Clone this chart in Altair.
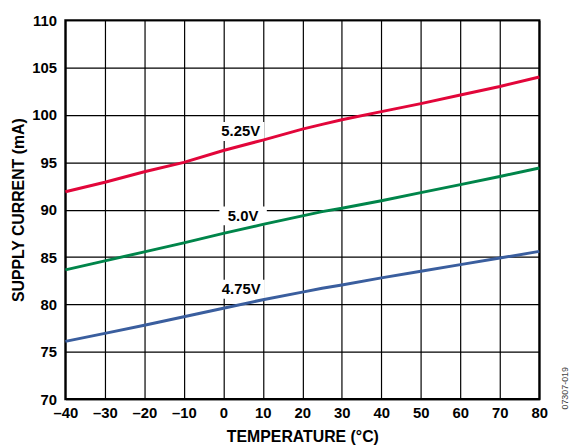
import altair as alt
import pandas as pd

temps = [-40, -30, -20, -10, 0, 10, 20, 25, 30, 40, 50, 60, 70, 80]
i_525 = [91.9, 92.9, 94.0, 95.0, 96.25, 97.35, 98.5, 99.0, 99.5, 100.35, 101.2, 102.1, 103.0, 104.0]
i_500 = [83.65, 84.6, 85.55, 86.5, 87.5, 88.45, 89.35, 89.8, 90.15, 90.95, 91.8, 92.65, 93.5, 94.4]
i_475 = [76.1, 76.95, 77.8, 78.7, 79.6, 80.5, 81.3, 81.7, 82.05, 82.8, 83.5, 84.2, 84.9, 85.6]

series_names = ["5.25V", "5.0V", "4.75V"]
series_colors = ["#E2063A", "#00854A", "#3A5E9E"]
label_x = [4.4, 5.0, 4.5]
label_y = [98.25, 89.35, 81.6]
x_ticks = [-40, -30, -20, -10, 0, 10, 20, 30, 40, 50, 60, 70, 80]
y_ticks = [70, 75, 80, 85, 90, 95, 100, 105, 110]

rows = []
for name, vals in zip(series_names, [i_525, i_500, i_475]):
    for t, v in zip(temps, vals):
        rows.append({"temp": t, "cur": v, "series": name})
df = pd.DataFrame(rows)

lab = pd.DataFrame({"series": series_names, "temp": label_x, "cur": label_y})
lab["x1"] = lab["temp"] - 6.0
lab["x2"] = lab["temp"] + 6.0
lab["y1"] = lab["cur"] - 1.0
lab["y2"] = lab["cur"] + 1.0

FONT = "Liberation Sans"
xscale = alt.Scale(domain=[-40, 80], nice=False, zero=False)
yscale = alt.Scale(domain=[70, 110], nice=False, zero=False)

xaxis = alt.Axis(
    values=x_ticks,
    title="TEMPERATURE (°C)",
    labelExpr="datum.value < 0 ? '–' + abs(datum.value) : datum.label",
    labelOverlap=False, labelFlush=False,
    grid=True, gridColor="#000000", gridWidth=1.2, gridOpacity=1,
    domain=False, ticks=False,
    labelFont=FONT, labelFontSize=15, labelFontWeight="bold", labelColor="#000000",
    labelPadding=7,
    titleFont=FONT, titleFontSize=16, titleFontWeight="bold", titleColor="#000000",
    titleBaseline="alphabetic", titleY=43,
)
yaxis = alt.Axis(
    values=y_ticks,
    title="SUPPLY CURRENT (mA)",
    labelOverlap=False, labelFlush=False,
    grid=True, gridColor="#000000", gridWidth=1.2, gridOpacity=1,
    domain=False, ticks=False,
    labelFont=FONT, labelFontSize=15, labelFontWeight="bold", labelColor="#000000",
    labelPadding=9,
    titleFont=FONT, titleFontSize=16, titleFontWeight="bold", titleColor="#000000",
    titleBaseline="alphabetic", titleX=-42,
)

X = lambda f: alt.X(f, scale=xscale, axis=xaxis)
Y = lambda f: alt.Y(f, scale=yscale, axis=yaxis)

boxes = alt.Chart(lab).mark_rect(fill="white").encode(
    x=X("x1:Q"), x2="x2:Q", y=Y("y1:Q"), y2="y2:Q",
)

lines = alt.Chart(df).mark_line(strokeWidth=3).encode(
    x=X("temp:Q"),
    y=Y("cur:Q"),
    color=alt.Color("series:N", scale=alt.Scale(domain=series_names, range=series_colors), legend=None),
    detail="series:N",
)

texts = alt.Chart(lab).mark_text(
    font=FONT, fontSize=15, fontWeight="bold", color="#000000", baseline="middle", align="center"
).encode(
    x=X("temp:Q"), y=Y("cur:Q"), text="series:N",
)

note = alt.Chart(pd.DataFrame({"t": ["07307-019"]})).mark_text(
    font=FONT, fontSize=9, color="#444444", angle=270, align="center", baseline="middle"
).encode(
    x=alt.value(505), y=alt.value(372), text="t:N"
)

chart = alt.layer(boxes, lines, texts, note).properties(
    width=479, height=383,
    autosize=alt.AutoSizeParams(type="none"),
    padding={"left": 58, "top": 10, "right": 32, "bottom": 47},
).configure_view(stroke="#000000", strokeWidth=2.2)

chart.save("out.html", embed_options={"renderer": "svg", "actions": False})
